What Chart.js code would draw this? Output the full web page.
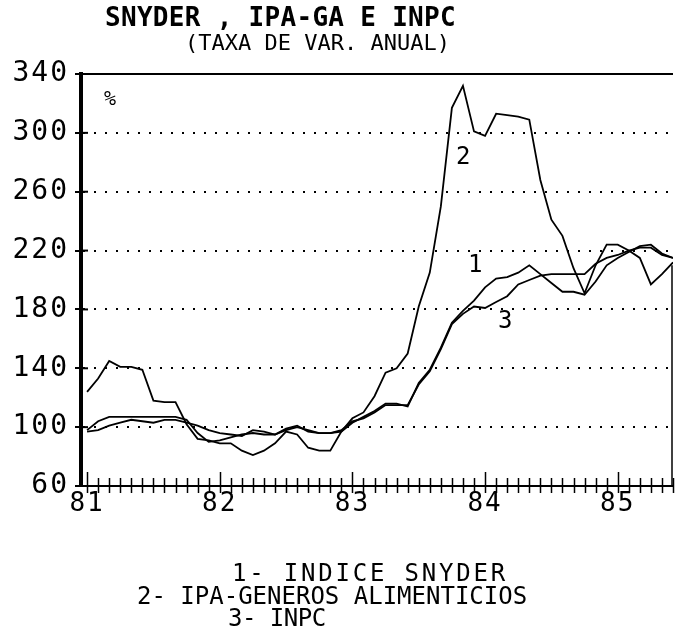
<!DOCTYPE html>
<html>
<head>
<meta charset="utf-8">
<script src="https://cdn.jsdelivr.net/npm/chart.js@4.4.1/dist/chart.umd.min.js"></script>
<style>
  html, body { margin: 0; padding: 0; background: #fff; }
</style>
</head>
<body>
<canvas id="chart" width="684" height="640"></canvas>
<script>
  // months jan/81 .. jun/85, one point per month
  const years = ['81', '82', '83', '84', '85'];
  const months = [];
  years.forEach(y => {
    for (let m = 1; m <= 12; m++) months.push(m + '/' + y);
  });
  months.length = 54;

  const yearTicks = [0, 12, 24, 36, 48];
  const yearLabels = ['81', '82', '83', '84', '85'];

  // 1- INDICE SNYDER
  const snyder = [
    97, 98, 101, 103, 105, 104, 103, 105, 105, 103, 101, 98,
    96, 95, 94, 98, 97, 95, 98, 100, 98, 96, 96, 97,
    103, 107, 111, 116, 116, 114, 130, 139, 154, 171, 179, 186,
    195, 201, 202, 205, 210, 204, 198, 192, 192, 190, 199, 210,
    215, 219, 223, 224, 218, 215
  ];

  // 2- IPA-GENEROS ALIMENTICIOS
  const ipaGa = [
    124, 133, 145, 141, 141, 139, 118, 117, 117, 102, 92, 91,
    89, 89, 84, 81, 84, 89, 97, 95, 86, 84, 84, 97,
    106, 110, 121, 137, 140, 150, 182, 205, 250, 317, 332, 301,
    298, 313, 312, 311, 309, 268, 241, 230, 208, 191, 210, 224,
    224, 220, 215, 197, 204, 212
  ];

  // 3- INPC
  const inpc = [
    98, 104, 107, 107, 107, 107, 107, 107, 107, 105, 96, 90,
    91, 93, 95, 96, 95, 95, 99, 101, 97, 96, 96, 98,
    104, 106, 110, 115, 115, 115, 129, 138, 153, 170, 177, 182,
    181, 185, 189, 197, 200, 203, 204, 204, 204, 204, 211, 215,
    217, 220, 222, 222, 217, 215
  ];

  const legendLines = ['1- INDICE SNYDER', '2- IPA-GENEROS ALIMENTICIOS', '3- INPC'];
  const seriesTags = ['1', '2', '3'];

  const FONT = '"DejaVu Sans Mono", "Liberation Mono", monospace';

  function points(values) {
    return values.map((v, i) => ({ x: i, y: v }));
  }

  function text(ctx, s, x, y, size, spacing, bold) {
    ctx.font = (bold ? 'bold ' : '') + size + 'px ' + FONT;
    ctx.letterSpacing = spacing + 'px';
    ctx.textAlign = 'left';
    ctx.textBaseline = 'middle';
    ctx.fillStyle = '#000';
    ctx.fillText(s, x, y);
  }

  const printer = {
    id: 'printer',
    beforeDraw(chart) {
      const ctx = chart.ctx;
      ctx.save();
      ctx.fillStyle = '#fff';
      ctx.fillRect(0, 0, chart.width, chart.height);
      ctx.restore();
      // wide pitch for the axis numbers, like the printer font
      ctx.letterSpacing = '2px';
    },
    afterDraw(chart) {
      const ctx = chart.ctx;
      const area = chart.chartArea;
      const xs = chart.scales.x;
      const ys = chart.scales.y;
      ctx.save();
      ctx.strokeStyle = '#000';

      // solid frame line at the top, partial one on the right
      ctx.lineWidth = 2;
      ctx.beginPath();
      ctx.moveTo(area.left, ys.getPixelForValue(340));
      ctx.lineTo(area.right, ys.getPixelForValue(340));
      ctx.stroke();
      ctx.lineWidth = 1.5;
      ctx.beginPath();
      ctx.moveTo(area.right - 1, ys.getPixelForValue(210));
      ctx.lineTo(area.right - 1, area.bottom);
      ctx.stroke();

      // month ticks on the time axis
      ctx.lineWidth = 1.5;
      for (let m = 0; m < months.length; m++) {
        const px = Math.round(xs.getPixelForValue(m)) + 0.5;
        const up = m % 12 === 0 ? 14 : 8;
        ctx.beginPath();
        ctx.moveTo(px, area.bottom - up);
        ctx.lineTo(px, area.bottom + 7);
        ctx.stroke();
      }

      // y ticks cross the axis
      ctx.lineWidth = 2;
      ys.ticks.forEach(t => {
        const py = ys.getPixelForValue(t.value);
        ctx.beginPath();
        ctx.moveTo(area.left, py);
        ctx.lineTo(area.left + 7, py);
        ctx.stroke();
      });

      // labels inside the plot
      text(ctx, '%', 104, 100, 20, 0, false);
      text(ctx, seriesTags[0], 468, 266, 24, 0, false);
      text(ctx, seriesTags[1], 456, 158, 24, 0, false);
      text(ctx, seriesTags[2], 498, 322, 24, 0, false);

      // title
      text(ctx, 'SNYDER , IPA-GA E INPC', 105, 19, 26, 0.3, true);
      text(ctx, '(TAXA DE VAR. ANUAL)', 185, 44, 22, 0, false);

      // legend
      text(ctx, legendLines[0], 232, 575, 24, 2.8, false);
      text(ctx, legendLines[1], 137, 598, 24, 0, false);
      text(ctx, legendLines[2], 228, 620, 24, -0.5, false);

      ctx.restore();
      ctx.letterSpacing = '0px';
    }
  };

  const line = (label, values) => ({
    label: label,
    data: points(values),
    borderColor: '#000',
    backgroundColor: '#000',
    borderWidth: 1.8,
    pointRadius: 0,
    tension: 0,
    fill: false
  });

  new Chart(document.getElementById('chart'), {
    type: 'line',
    data: {
      datasets: [
        line(legendLines[0], snyder),
        line(legendLines[1], ipaGa),
        line(legendLines[2], inpc)
      ]
    },
    options: {
      responsive: false,
      animation: false,
      devicePixelRatio: 1,
      layout: { padding: { top: 74, right: 11, left: 0, bottom: 0 } },
      plugins: {
        legend: { display: false },
        tooltip: { enabled: false },
        title: { display: false }
      },
      scales: {
        x: {
          type: 'linear',
          min: -0.55,
          max: 53,
          afterFit: s => { s.height = 154; },
          afterBuildTicks: s => { s.ticks = yearTicks.map(v => ({ value: v })); },
          ticks: {
            autoSkip: false,
            maxRotation: 0,
            padding: 3,
            color: '#000',
            font: { family: FONT, size: 26 },
            callback: v => yearLabels[yearTicks.indexOf(v)]
          },
          grid: { display: true, drawOnChartArea: false, drawTicks: false },
          border: { display: true, color: '#000', width: 2 }
        },
        y: {
          min: 60,
          max: 340,
          afterFit: s => { s.width = 81; },
          ticks: {
            stepSize: 40,
            padding: 6,
            color: '#000',
            font: { family: FONT, size: 28 }
          },
          grid: {
            color: '#000',
            lineWidth: 2,
            tickLength: 6,
            tickColor: '#000',
            tickWidth: 2
          },
          border: { display: true, color: '#000', width: 4, dash: [2, 9] }
        }
      }
    },
    plugins: [printer]
  });
</script>
</body>
</html>
